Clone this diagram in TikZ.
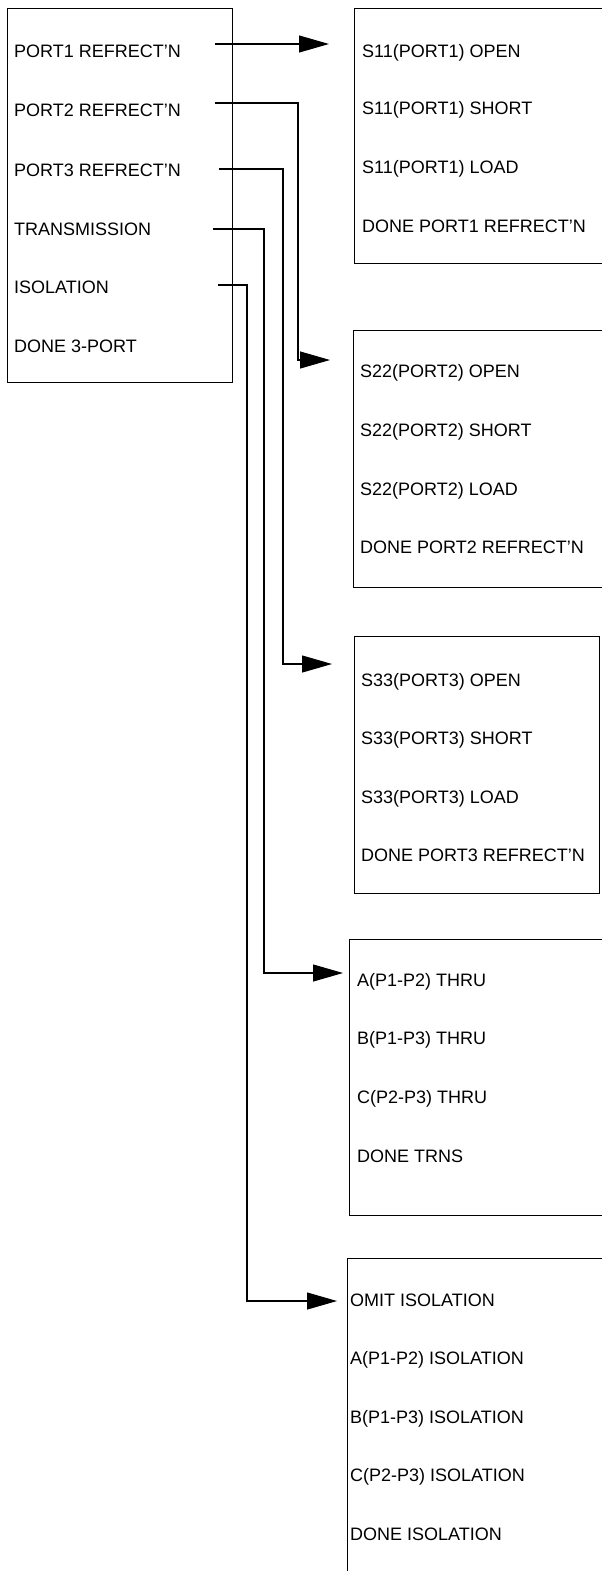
\documentclass[tikz,border=0pt]{standalone}
\usepackage{fontspec}
\setmainfont{Liberation Sans}
\usetikzlibrary{arrows.meta}

\begin{document}
\begin{tikzpicture}[
    x=1pt, y=-1pt,
    font=\fontsize{18}{21}\selectfont,
    >={Triangle[length=30pt,width=17pt]},
    menu/.style={draw, line width=1.1pt, anchor=north west, inner sep=0pt},
    item/.style={anchor=base west, inner sep=0pt},
    sig/.style={->, line width=1.1pt},
  ]
  \useasboundingbox (0,0) rectangle (602,1571);

  %% ---- main menu -----------------------------------------------------
  \node[menu, minimum width=225pt, minimum height=374pt] (M0) at (7,8) {};
  \node[item] (p1) at (14,57.3)  {PORT1 REFRECT'N};
  \node[item] (p2) at (14,116.3) {PORT2 REFRECT'N};
  \node[item] (p3) at (14,176.3) {PORT3 REFRECT'N};
  \node[item] (tr) at (14,235.3) {TRANSMISSION};
  \node[item] (is) at (14,293.3) {ISOLATION};
  \node[item] (dn) at (14,352.3) {DONE 3-PORT};

  %% ---- port 1 reflection ---------------------------------------------
  \node[menu, minimum width=300pt, minimum height=255pt] (M1) at (354,8) {};
  \node[item] (a1) at (362,57.3)  {S11(PORT1) OPEN};
  \node[item] (a2) at (362,114.3) {S11(PORT1) SHORT};
  \node[item] (a3) at (362,173.3) {S11(PORT1) LOAD};
  \node[item] (a4) at (362,232.3) {DONE PORT1 REFRECT'N};

  %% ---- port 2 reflection ---------------------------------------------
  \node[menu, minimum width=300pt, minimum height=257pt] (M2) at (353,330) {};
  \node[item] (b1) at (360,377.3) {S22(PORT2) OPEN};
  \node[item] (b2) at (360,436.3) {S22(PORT2) SHORT};
  \node[item] (b3) at (360,495.3) {S22(PORT2) LOAD};
  \node[item] (b4) at (360,553.3) {DONE PORT2 REFRECT'N};

  %% ---- port 3 reflection ---------------------------------------------
  \node[menu, minimum width=245pt, minimum height=257pt] (M3) at (354,636) {};
  \node[item] (c1) at (361,686.3) {S33(PORT3) OPEN};
  \node[item] (c2) at (361,744.3) {S33(PORT3) SHORT};
  \node[item] (c3) at (361,803.3) {S33(PORT3) LOAD};
  \node[item] (c4) at (361,861.3) {DONE PORT3 REFRECT'N};

  %% ---- transmission --------------------------------------------------
  \node[menu, minimum width=300pt, minimum height=276pt] (M4) at (349,939) {};
  \node[item] (d1) at (357,986.3)  {A(P1-P2) THRU};
  \node[item] (d2) at (357,1044.3) {B(P1-P3) THRU};
  \node[item] (d3) at (357,1103.3) {C(P2-P3) THRU};
  \node[item] (d4) at (357,1162.3) {DONE TRNS};

  %% ---- isolation -----------------------------------------------------
  \node[menu, minimum width=300pt, minimum height=400pt] (M5) at (347,1258) {};
  \node[item] (e1) at (350,1306.3) {OMIT ISOLATION};
  \node[item] (e2) at (350,1364.3) {A(P1-P2) ISOLATION};
  \node[item] (e3) at (350,1423.3) {B(P1-P3) ISOLATION};
  \node[item] (e4) at (350,1481.3) {C(P2-P3) ISOLATION};
  \node[item] (e5) at (350,1540.3) {DONE ISOLATION};

  %% ---- links from the main menu --------------------------------------
  \coordinate (s1) at (215,44);
  \coordinate (t1) at (329,44);
  \coordinate (s2) at (215,103);
  \coordinate (k2) at (298,360);
  \coordinate (t2) at (330,360);
  \coordinate (s3) at (219,169);
  \coordinate (k3) at (283,664);
  \coordinate (t3) at (332,664);
  \coordinate (s4) at (213,229);
  \coordinate (k4) at (264,973);
  \coordinate (t4) at (343,973);
  \coordinate (s5) at (218,285);
  \coordinate (k5) at (247,1301);
  \coordinate (t5) at (337,1301);

  \draw[sig] (s1) -- (t1);
  \draw[sig] (s2) -| (k2) -- (t2);
  \draw[sig] (s3) -| (k3) -- (t3);
  \draw[sig] (s4) -| (k4) -- (t4);
  \draw[sig] (s5) -| (k5) -- (t5);

\end{tikzpicture}
\end{document}
